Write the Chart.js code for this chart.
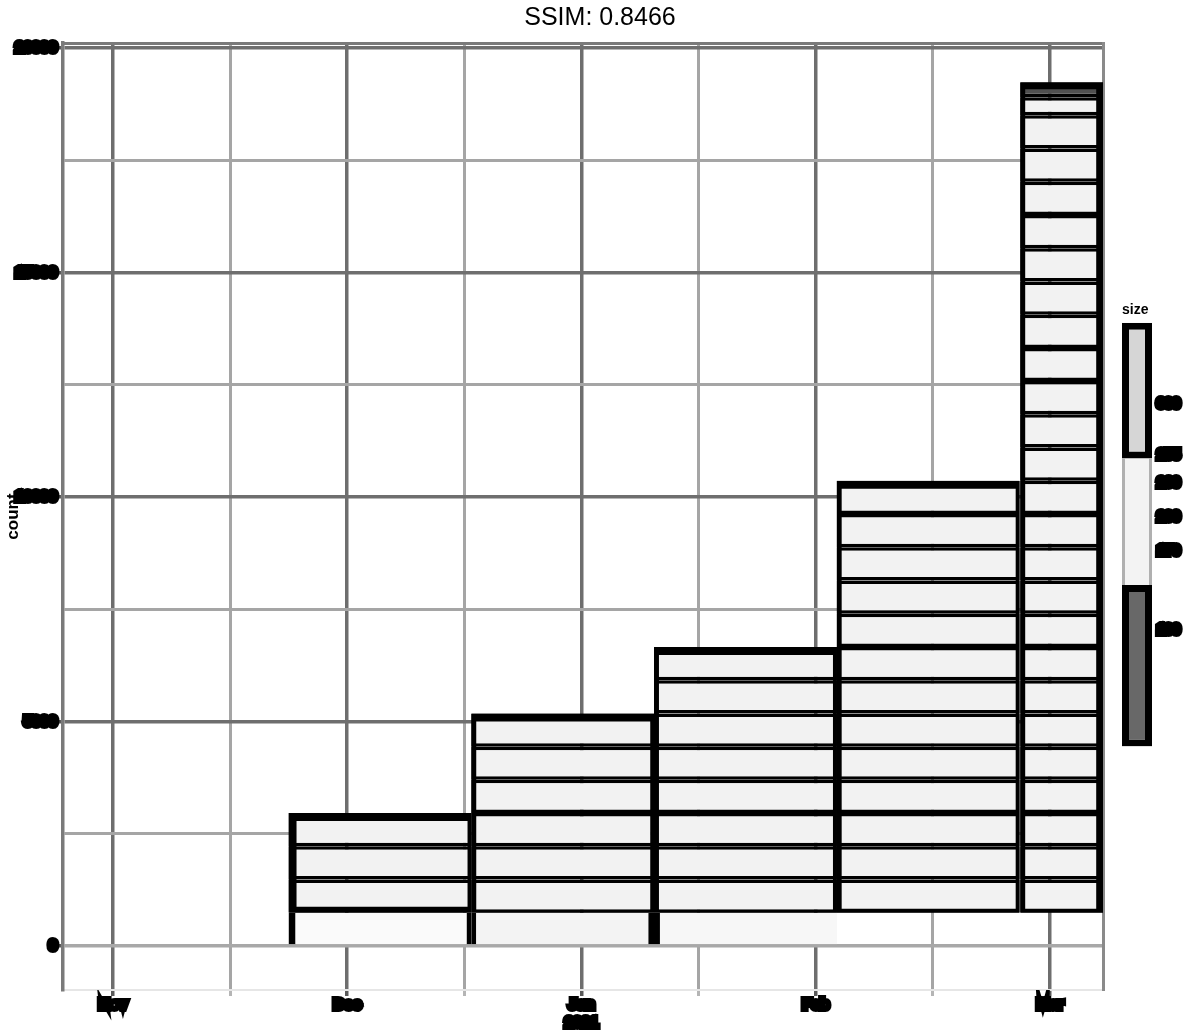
<!DOCTYPE html>
<html><head><meta charset="utf-8">
<script src="https://cdn.jsdelivr.net/npm/chart.js@4/dist/chart.umd.min.js"></script>
<style>
html,body{margin:0;padding:0;background:#fff;}
#wrap{position:relative;width:1200px;height:1034px;overflow:hidden;}
#main{position:absolute;left:0;top:0;}
#cbar{position:absolute;left:1100px;top:290px;}
</style></head><body>
<div id="wrap">
<canvas id="main" width="1200" height="1034"></canvas>
<canvas id="cbar" width="100" height="470"></canvas>
</div>
<script>
// ---------- data ----------
const titleText = 'SSIM: 0.8466';
const binCenters = [1.14, 1.92, 2.70, 3.48, 4.05];
const rows1 = [740, 740, 740, 740];
const rows2 = [740, 740, 740, 740, 740, 740, 740];
const rows3 = [740, 740, 740, 740, 740, 740, 740, 740, 740];
const rows4 = [740, 740, 740, 740, 740, 740, 740, 740, 740, 740, 740, 740, 740, 740];
const rows5 = [740, 740, 740, 740, 740, 740, 740, 740, 740, 740, 740, 740, 740, 740, 740, 740, 740, 740, 740, 740, 740, 740, 740, 740, 740, 400];
const capValues = [0, 0, 0, 0, 334];
const xGridValues = [0, 0.5, 1, 1.5, 2, 2.5, 3, 3.5, 4];
const xTickLabels = ['Nov', 'Dec', ['Jan', '2021'], 'Feb', 'Mar'];
const yGridValues = [0, 2500, 5000, 7500, 10000, 12500, 15000, 17500, 20000];
const yTickLabels = ['0', '5000', '10000', '15000', '20000'];
const yTitle = 'count';
const cbarTitle = 'size';
const cbarMin = -3;
const cbarSections = [140, 252, 372];
const cbarTickValues = [100, 170, 200, 230, 255, 300];
const cbarTickLabels = ['100', '170', '200', '230', '255', '300'];

// ---------- styles ----------
const FONT = "'Liberation Sans', Arial, sans-serif";
const baseFill = ['#fafafa', '#f3f3f3', '#f7f7f7', 'rgba(0,0,0,0)', 'rgba(0,0,0,0)'];
const baseBorder = [
  {left: 7, right: 5, top: 0, bottom: 0},
  {left: 5, right: 6, top: 0, bottom: 0},
  {left: 6, right: 0, top: 0, bottom: 0},
  0, 0
];
const outlineBorder = [
  {left: 8, right: 4, top: 8, bottom: 6},
  {left: 5, right: 4, top: 8, bottom: 2},
  {left: 5, right: 4, top: 8, bottom: 2},
  {left: 5, right: 4, top: 8, bottom: 4},
  {left: 5, right: 7, top: 7, bottom: 4}
];

const allRows = [rows1, rows2, rows3, rows4, rows5];
function edgesOf(rows) { const e = [0]; rows.forEach(v => e.push(e[e.length - 1] + v)); return e; }

const datasets = [];
allRows.forEach((rows, i) => {
  const onX2 = i === allRows.length - 1;
  const common = {
    xAxisID: onX2 ? 'x2' : 'x', yAxisID: 'y',
    barThickness: onX2 ? 83 : 183, grouped: false,
    borderSkipped: false, borderColor: '#000', inflateAmount: 0
  };
  const x = binCenters[i];
  const e = edgesOf(rows);
  const total = e[e.length - 1];
  const cap = capValues[i];
  datasets.push({...common, order: 1, data: [{x, y: [e[1], total + cap]}],
    backgroundColor: 'rgba(0,0,0,0)', borderWidth: outlineBorder[i]});
  if (cap) datasets.push({...common, order: 2, data: [{x, y: [total, total + cap]}],
    backgroundColor: '#505050', borderWidth: 3.5});
  datasets.push({...common, order: 2,
    data: rows.slice(1).map((v, k) => ({x, y: [e[k + 1], e[k + 2]]})),
    backgroundColor: '#f2f2f2', borderWidth: 3.5});
  datasets.push({...common, order: 3, data: [{x, y: [0, e[1]]}],
    backgroundColor: baseFill[i], borderWidth: baseBorder[i]});
});

const xMin = -0.2134, xMax = 4.2263;
const yMin = -980, yMax = 20110;
const isMajorX = v => Math.abs(v - Math.round(v)) < 1e-6;
const isMajorY = v => v % 5000 === 0;
const tickFont = {family: FONT, size: 15, weight: 'bold'};

new Chart(document.getElementById('main'), {
  type: 'bar',
  data: {datasets},
  options: {
    responsive: false, animation: false,
    layout: {padding: 0},
    plugins: {
      legend: {display: false}, tooltip: {enabled: false},
      title: {display: true, text: titleText, color: '#000',
        font: {family: FONT, size: 25, weight: 'normal'}, padding: {top: 3, bottom: 10}}
    },
    scales: {
      x: {
        type: 'linear', position: 'bottom', min: xMin, max: xMax, offset: false,
        afterFit: s => { s.height = 44; },
        afterBuildTicks: s => { s.ticks = xGridValues.map(v => ({value: v})); },
        ticks: {autoSkip: false, maxRotation: 0,
          color: '#000', font: tickFont, padding: 0,
          textStrokeColor: '#000', textStrokeWidth: 6,
          callback: v => isMajorX(v) ? xTickLabels[Math.round(v)] : ''},
        grid: {
          offset: false,
          color: c => (c.tick && isMajorX(c.tick.value)) ? '#6e6e6e' : '#a5a5a5',
          lineWidth: c => (c.tick && isMajorX(c.tick.value)) ? 3.5 : 3,
          tickColor: c => (c.tick && isMajorX(c.tick.value)) ? '#5a5a5a' : '#b5b5b5',
          tickLength: 6
        },
        border: {display: true, color: '#e6e6e6', width: 2}
      },
      x2: {
        type: 'linear', position: 'top', min: xMin, max: xMax, offset: false,
        afterFit: s => { s.height = 0; },
        ticks: {display: false}, grid: {display: false, drawTicks: false, offset: false},
        border: {display: true, color: '#7a7a7a', width: 3}
      },
      y: {
        type: 'linear', position: 'left', min: yMin, max: yMax,
        afterFit: s => { s.width = 63; },
        afterBuildTicks: s => { s.ticks = yGridValues.map(v => ({value: v})); },
        title: {display: true, text: yTitle, color: '#000',
          font: {family: FONT, size: 17, weight: 'bold'}, padding: {top: 3, bottom: 0}},
        ticks: {autoSkip: false,
          color: '#000', font: tickFont, padding: 2,
          textStrokeColor: '#000', textStrokeWidth: 6,
          callback: v => isMajorY(v) ? yTickLabels[v / 5000] : ''},
        grid: {
          color: c => !c.tick ? '#a5a5a5' : (c.tick.value === 0 ? '#a8a8a8' : (isMajorY(c.tick.value) ? '#6e6e6e' : '#a5a5a5')),
          lineWidth: c => (c.tick && isMajorY(c.tick.value)) ? 3.5 : 3,
          tickColor: c => (c.tick && isMajorY(c.tick.value)) ? '#5a5a5a' : 'rgba(0,0,0,0)',
          tickLength: 4
        },
        border: {display: true, color: '#7a7a7a', width: 3.5}
      },
      y2: {
        type: 'linear', position: 'right',
        afterFit: s => { s.width = 97; },
        ticks: {display: false}, grid: {display: false, drawTicks: false},
        border: {display: true, color: '#8a8a8a', width: 3}
      }
    }
  }
});

// ---------- colour bar ----------
const cbCommon = {grouped: false, barThickness: 30, borderSkipped: false, inflateAmount: 0};
new Chart(document.getElementById('cbar'), {
  type: 'bar',
  data: {
    labels: [''],
    datasets: [
      {...cbCommon, order: 1, data: [[cbarMin, cbarSections[0]]], backgroundColor: '#686868', borderColor: '#000', borderWidth: 7},
      {...cbCommon, order: 2, data: [[cbarSections[0], cbarSections[1]]], backgroundColor: '#f3f3f3', borderColor: '#b0b0b0', borderWidth: {left: 3, right: 3, top: 0, bottom: 0}},
      {...cbCommon, order: 1, data: [[cbarSections[1], cbarSections[2]]], backgroundColor: '#d6d6d6', borderColor: '#000', borderWidth: 7}
    ]
  },
  options: {
    responsive: false, animation: false,
    layout: {padding: {left: 22, right: 0, top: 0, bottom: 10}},
    plugins: {
      legend: {display: false}, tooltip: {enabled: false},
      title: {display: true, text: cbarTitle, color: '#000', align: 'start',
        font: {family: FONT, size: 14, weight: 'bold'}, padding: {top: 12, bottom: 4}}
    },
    scales: {
      x: {display: false},
      y: {
        position: 'right', min: cbarMin, max: cbarSections[2],
        afterFit: s => { s.width = 48; },
        afterBuildTicks: s => { s.ticks = cbarTickValues.map(v => ({value: v})); },
        grid: {display: false, drawTicks: false}, border: {display: false},
        ticks: {padding: 5, color: '#000', font: {family: FONT, size: 14, weight: 'bold'},
          textStrokeColor: '#000', textStrokeWidth: 6,
          callback: (v, i) => cbarTickLabels[i]}
      }
    }
  }
});
</script>
</body></html>
